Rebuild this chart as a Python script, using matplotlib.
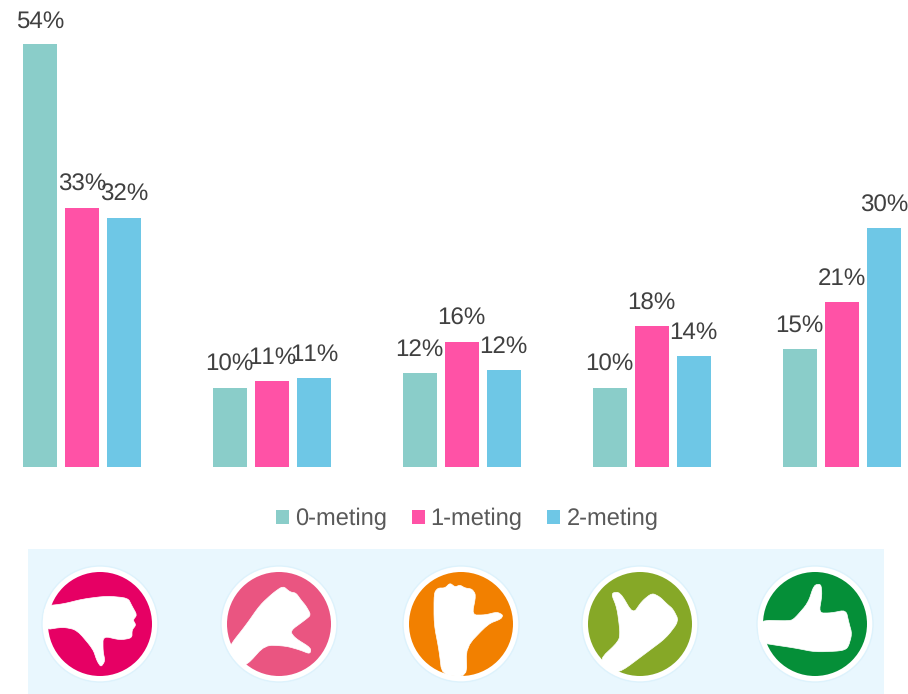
import matplotlib
matplotlib.use("Agg")
import matplotlib.pyplot as plt
from matplotlib.patches import Circle, Polygon, Rectangle

plt.rcParams["font.family"] = ["Liberation Sans", "DejaVu Sans"]
plt.rcParams["text.hinting"] = "no_hinting"
plt.rcParams["text.kerning_factor"] = 6

W, H = 908, 694

metingen = ["0-meting", "1-meting", "2-meting"]
meting_0 = [54, 10.1, 12, 10.1, 15.1]
meting_1 = [33.1, 11, 16, 18, 21.1]
meting_2 = [31.8, 11.4, 12.4, 14.2, 30.49]
colors = ["#8ACDC9", "#FF52A6", "#6EC7E6"]

fig = plt.figure(figsize=(W / 100, H / 100), dpi=100)

# bar chart, baseline at y=467px
ax = fig.add_axes([0, 1 - 467 / H, 1, 467 / H])
group = 190
ax.set_xlim(-81.8 / group, (W - 81.8) / group)
ax.set_ylim(0, 467 / 7.83)
ax.axis("off")

handles = []
for i, values in enumerate([meting_0, meting_1, meting_2]):
    xs = [g + (i - 1) * 42 / group for g in range(len(values))]
    bars = ax.bar(xs, values, width=33.5 / group, color=colors[i], label=metingen[i])
    handles.append(bars)
    ax.bar_label(bars, labels=[f"{v:.0f}%" for v in values], padding=8.5,
                 fontsize=17.4, color="#404040")

fig.legend(handles=handles, loc="center", bbox_to_anchor=(467 / W, 1 - 519 / H),
           ncol=3, frameon=False, fontsize=17, labelcolor="#595959",
           handlelength=0.55, handleheight=0.55, handletextpad=0.25,
           columnspacing=1.06, borderpad=0, borderaxespad=0)

# icon strip, drawn in pixel coordinates
strip = fig.add_axes([0, 0, 1, 1], zorder=-1)
strip.set_xlim(0, W)
strip.set_ylim(H, 0)
strip.axis("off")
strip.add_patch(Rectangle((28, 549), 856, 145, color="#E9F7FE", lw=0))

# hand outlines, relative to the icon centre (px)
down = [(-56, -18), (-37, -20), (-17, -25), (7, -28), (28, -26), (32, -18), (37, -9), (33, -4),
        (36, 1), (32, 6), (32, 14), (20, 16), (3, 12), (3, 27), (5, 37), (1, 43), (-3, 37),
        (-7, 25), (-23, 6), (-37, 3), (-56, 6)]
down_half = [(-48, 20), (-33, 1), (-19, -19), (-6, -31), (4, -38), (11, -32), (17, -31), (22, -24),
             (27, -18), (32, -9), (26, -4), (11, 7), (16, 14), (32, 24), (31, 30), (21, 26),
             (7, 22), (-14, 21), (-32, 41), (-40, 40), (-50, 28)]
middle = [(-27, -31), (-23, -36), (-16, -36), (-11, -41), (-6, -37), (-1, -39), (4, -36), (11, -35),
          (15, -29), (11, -9), (24, -9), (36, -12), (42, -9), (40, -5), (27, 0), (5, 23),
          (6, 53), (-19, 51), (-22, 26), (-27, 0)]
up_half = [(-29, -31), (-20, -32), (-7, -10), (2, -23), (12, -31), (20, -27), (27, -20), (33, -15),
           (39, -3), (26, 14), (6, 29), (-18, 47), (-28, 48), (-41, 36), (-21, 17),
           (-20, 7), (-23, -16)]
up = [(-56, -4), (-25, -3), (-20, -6), (-7, -21), (-1, -39), (6, -40), (7, -29), (4, -11),
      (16, -11), (31, -14), (34, -1), (37, 10), (33, 24), (26, 27), (0, 28), (-20, 24),
      (-47, 20), (-56, 18)]

icon_x = [100, 279, 461, 640, 815]
icon_colors = ["#E60064", "#EA5581", "#F28000", "#86A827", "#058F38"]
hands = [down, down_half, middle, up_half, up]


def smooth(points, rounds=2):
    # corner cutting, so the hands are not so angular
    for _ in range(rounds):
        new = []
        for k, (x0, y0) in enumerate(points):
            x1, y1 = points[(k + 1) % len(points)]
            new.append((0.8 * x0 + 0.2 * x1, 0.8 * y0 + 0.2 * y1))
            new.append((0.2 * x0 + 0.8 * x1, 0.2 * y0 + 0.8 * y1))
        points = new
    return points


for cx, col, hand in zip(icon_x, icon_colors, hands):
    strip.add_patch(Circle((cx, 624), 58, fc="white", ec="#DDF2FC", lw=1))
    strip.add_patch(Circle((cx, 624), 52, fc=col, lw=0))
    strip.add_patch(Polygon([(cx + x, 624 + y) for x, y in smooth(hand)], closed=True,
                            fc="white", ec="white", lw=0.5, joinstyle="round"))

fig.savefig("out.png", dpi=100)
